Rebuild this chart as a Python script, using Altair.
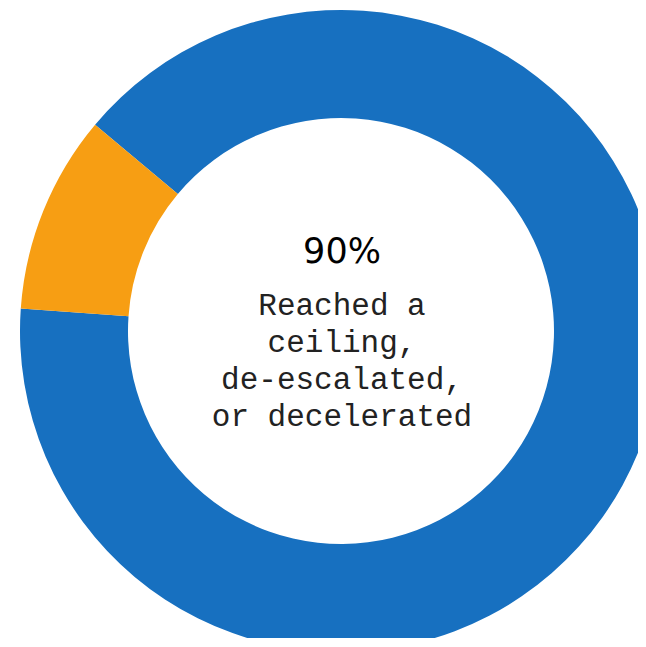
import altair as alt
import pandas as pd

categories = ["Reached a ceiling, de-escalated, or decelerated", "Other"]
values = [90, 10]
colors = ["#1770c0", "#f79e13"]
headline = "90%"
label_lines = ["Reached a", "ceiling,", "de-escalated,", "or decelerated"]

df = pd.DataFrame({"category": categories, "value": values, "order": list(range(len(values)))})

start = 310 * 3.141592653589793 / 180
end = start + 2 * 3.141592653589793

arc = alt.Chart(df).mark_arc(outerRadius=321, innerRadius=213).encode(
    theta=alt.Theta("value:Q", stack=True, scale=alt.Scale(range=[start, end])),
    color=alt.Color("category:N", scale=alt.Scale(domain=categories, range=colors), legend=None),
    order=alt.Order("order:Q"),
    x=alt.value(333),
    y=alt.value(323),
)

big = alt.Chart(pd.DataFrame({"t": [headline]})).mark_text(
    font="DejaVu Sans", fontSize=35, color="#000000", align="center", baseline="alphabetic"
).encode(text="t:N", x=alt.value(334), y=alt.value(255))

lines = alt.Chart(pd.DataFrame({"t": ["\n".join(label_lines)]})).mark_text(
    font="Liberation Mono", fontSize=31, color="#222222", align="center", baseline="alphabetic",
    lineBreak="\n", lineHeight=37
).encode(text="t:N", x=alt.value(334), y=alt.value(307))

chart = alt.layer(arc, big, lines).properties(
    width=630, height=630, padding=0, autosize="none"
).configure_view(stroke=None)

chart.save("out.html", embed_options={"renderer": "svg", "actions": False})
